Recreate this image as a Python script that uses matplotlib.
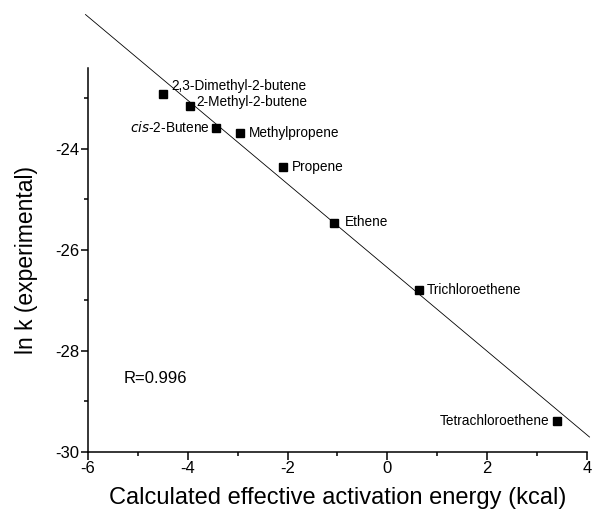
import matplotlib
matplotlib.use("Agg")
import matplotlib.pyplot as plt
import numpy as np

plt.rcParams['font.family'] = ['Liberation Sans', 'DejaVu Sans']
plt.rcParams['axes.unicode_minus'] = False

# calculated effective activation energy (kcal) vs ln k (experimental)
compounds = ['2,3-Dimethyl-2-butene', '2-Methyl-2-butene', 'cis-2-Butene',
             'Methylpropene', 'Propene', 'Ethene', 'Trichloroethene',
             'Tetrachloroethene']
energy = [-4.50, -3.96, -3.43, -2.95, -2.09, -1.08, 0.64, 3.39]
ln_k = [-22.92, -23.15, -23.58, -23.68, -24.35, -25.47, -26.79, -29.38]

# regression line as drawn in the figure
fit_slope = -0.828
fit_intercept = -26.35
fit_range = [-6.05, 4.05]
r_text = 'R=0.996'

# label offsets in points (dx, dy, ha)
label_offsets = {
    '2,3-Dimethyl-2-butene': (6, 6, 'left'),
    '2-Methyl-2-butene': (5, 3, 'left'),
    'cis-2-Butene': (-5, 0, 'right'),
    'Methylpropene': (6, 0, 'left'),
    'Propene': (6, 0, 'left'),
    'Ethene': (8, 1, 'left'),
    'Trichloroethene': (5, 0, 'left'),
    'Tetrachloroethene': (-5, 0, 'right'),
}

fig = plt.figure(figsize=(5.92, 5.14), dpi=100)
ax = fig.add_axes([0.1486, 0.1206, 0.843, 0.747])

xs = np.array(fit_range)
ax.plot(xs, fit_slope * xs + fit_intercept, color='black', lw=0.6,
        clip_on=False, zorder=2)
ax.plot(energy, ln_k, 's', color='black', markersize=6.3, clip_on=False,
        zorder=3)

for name, x, y in zip(compounds, energy, ln_k):
    dx, dy, ha = label_offsets[name]
    if name.startswith('cis-'):
        txt = r'$\it{cis}$-2-Butene'
    else:
        txt = name
    ax.annotate(txt, (x, y), xytext=(dx, dy), textcoords='offset points',
                ha=ha, va='center', fontsize=9.8)

ax.text(-5.29, -28.55, r_text, fontsize=12, va='center', ha='left')

ax.set_xlim(-6, 4)
ax.set_ylim(-30, -22.4)
ax.set_xticks([-6, -4, -2, 0, 2, 4])
ax.set_xticks([-5, -3, -1, 1, 3], minor=True)
ax.set_yticks([-30, -28, -26, -24])
ax.set_yticks([-29, -27, -25, -23], minor=True)

for side in ['top', 'right']:
    ax.spines[side].set_visible(False)
for side in ['left', 'bottom']:
    ax.spines[side].set_linewidth(1.1)

ax.tick_params(which='major', direction='out', length=5.4, width=1.1,
               labelsize=12, pad=1)
ax.tick_params(which='minor', direction='out', length=2.7, width=1.1)

ax.set_xlabel('Calculated effective activation energy (kcal)', fontsize=17,
              labelpad=8)
ax.set_ylabel('ln k (experimental)', fontsize=16.5, labelpad=12)

fig.savefig('out.png', dpi=100)
